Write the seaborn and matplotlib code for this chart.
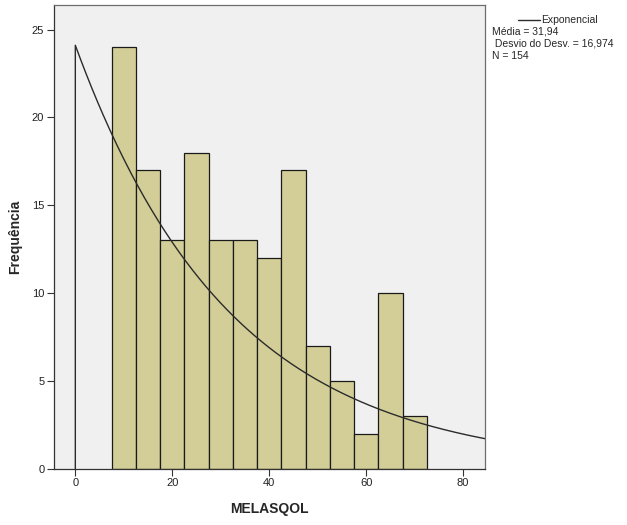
import numpy as np
import pandas as pd
import matplotlib
matplotlib.use("Agg")
import matplotlib.pyplot as plt
import seaborn as sns

# Histogram of MELASQOL scores (bin width 5)
bin_edges = [7.5, 12.5, 17.5, 22.5, 27.5, 32.5, 37.5, 42.5, 47.5, 52.5, 57.5, 62.5, 67.5, 72.5]
counts = [24, 17, 13, 18, 13, 13, 12, 17, 7, 5, 2, 10, 3]
mean_value = 31.94
std_value = 16.974
n_total = 154
bin_width = 5

sns.set_style("ticks")
plt.rcParams["font.family"] = ["Liberation Sans", "DejaVu Sans"]

fig = plt.figure(figsize=(6.27, 5.25), dpi=100)
ax = fig.add_axes([0.0861, 0.1072, 0.6874, 0.8833])
ax.set_facecolor("#F0F0F0")

centers = [(a + b) / 2 for a, b in zip(bin_edges[:-1], bin_edges[1:])]
df = pd.DataFrame({"MELASQOL": centers, "count": counts})
sns.histplot(data=df, x="MELASQOL", weights="count", bins=bin_edges,
             color="#D3CE97", alpha=1, edgecolor="#1a1a1a", linewidth=0.9, ax=ax)

# Fitted exponential density scaled to counts
x_curve = np.concatenate([[0.0], np.linspace(0, 85, 300)])
y_curve = n_total * bin_width / mean_value * np.exp(-x_curve / mean_value)
y_curve[0] = 0.0
curve = pd.DataFrame({"x": x_curve, "y": y_curve})
sns.lineplot(data=curve, x="x", y="y", sort=False, estimator=None, errorbar=None,
             color="#2b2b2b", linewidth=1.0, ax=ax)

ax.set_xlim(-4.4, 84.5)
ax.set_ylim(0, 26.4)
ax.set_xticks([0, 20, 40, 60, 80])
ax.set_yticks([0, 5, 10, 15, 20, 25])
ax.tick_params(axis="both", direction="out", length=5, width=0.8, color="#333333",
               labelsize=8, labelcolor="#222222", pad=2)
for side in ["left", "bottom", "top", "right"]:
    ax.spines[side].set_visible(True)
    ax.spines[side].set_color("#6e6e6e")
    ax.spines[side].set_linewidth(0.9)
ax.spines["left"].set_color("#333333")
ax.spines["bottom"].set_color("#333333")

ax.set_xlabel("MELASQOL", fontsize=10, fontweight="bold", labelpad=10)
ax.set_ylabel("Frequência", fontsize=10, fontweight="bold", labelpad=7)

# Legend block to the right of the plot
fig.lines.append(plt.Line2D([518 / 627, 540 / 627], [1 - 20 / 525, 1 - 20 / 525],
                            transform=fig.transFigure, color="#2b2b2b", linewidth=1.0))
fig.text(541 / 627, 1 - 20 / 525, "Exponencial", fontsize=7.5, va="center", ha="left")
fig.text(492 / 627, 1 - 32 / 525, "Média = 31,94", fontsize=7.5, va="center", ha="left")
fig.text(492 / 627, 1 - 44 / 525, " Desvio do Desv. = 16,974", fontsize=7.5, va="center", ha="left")
fig.text(492 / 627, 1 - 56 / 525, "N = 154", fontsize=7.5, va="center", ha="left")

fig.savefig("out.png", dpi=100)
